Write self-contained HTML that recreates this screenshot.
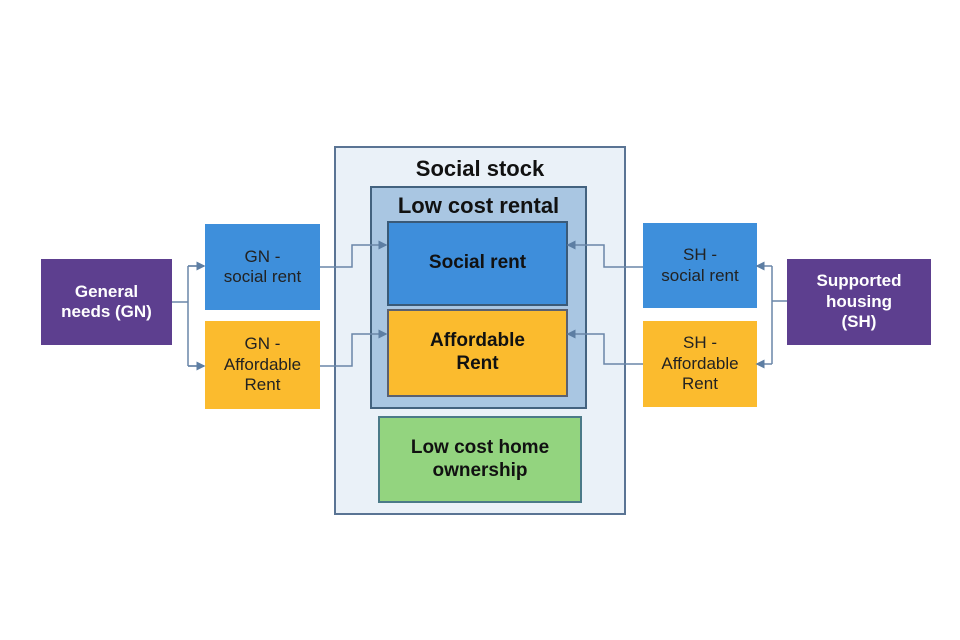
<!DOCTYPE html>
<html><head><style>
body{margin:0;width:960px;height:640px;background:#fff;position:relative;font-family:"Liberation Sans",sans-serif;overflow:hidden}
.b{position:absolute;box-sizing:border-box;display:flex;align-items:center;justify-content:center;text-align:center;line-height:1.2}
</style></head><body>
<div class="b" style="left:334px;top:146px;width:292px;height:369px;background:#eaf1f8;border:2px solid #5a7494;align-items:flex-start;padding-top:8px;font-weight:bold;font-size:22px;color:#111">Social stock</div>
<div class="b" style="left:370px;top:186px;width:217px;height:223px;background:#a9c6e2;border:2px solid #43627f;align-items:flex-start;padding-top:5px;font-weight:bold;font-size:22px;color:#111">Low cost rental</div>
<div class="b" style="left:387px;top:221px;width:181px;height:85px;background:#3e8edb;border:2px solid #3a5a78;font-weight:bold;font-size:19px;color:#111">Social rent</div>
<div class="b" style="left:387px;top:309px;width:181px;height:88px;background:#fbbb2e;border:2px solid #5a6070;font-weight:bold;font-size:19px;color:#111">Affordable<br>Rent</div>
<div class="b" style="left:378px;top:416px;width:204px;height:87px;background:#93d47f;border:2px solid #4b7a88;font-weight:bold;font-size:19px;color:#111">Low cost home<br>ownership</div>
<div class="b" style="left:41px;top:259px;width:131px;height:86px;background:#5d3f8f;color:#fff;font-weight:bold;font-size:17px">General<br>needs (GN)</div>
<div class="b" style="left:205px;top:224px;width:115px;height:86px;background:#3e8fdb;color:#222;font-size:17px">GN -<br>social rent</div>
<div class="b" style="left:205px;top:321px;width:115px;height:88px;background:#fbbb2e;color:#222;font-size:17px">GN -<br>Affordable<br>Rent</div>
<div class="b" style="left:643px;top:223px;width:114px;height:85px;background:#3e8fdb;color:#222;font-size:17px">SH -<br>social rent</div>
<div class="b" style="left:643px;top:321px;width:114px;height:86px;background:#fbbb2e;color:#222;font-size:17px">SH -<br>Affordable<br>Rent</div>
<div class="b" style="left:787px;top:259px;width:144px;height:86px;background:#5d3f8f;color:#fff;font-weight:bold;font-size:17px">Supported<br>housing<br>(SH)</div>
<svg width="960" height="640" style="position:absolute;left:0;top:0" fill="none" stroke="#6a86a8" stroke-width="1.5">
<defs><marker id="a" markerWidth="6" markerHeight="6" refX="5" refY="3" orient="auto"><path d="M0,0L6,3L0,6z" fill="#5d7ea3" stroke="none"/></marker></defs>
<path d="M172,302H188M188,266V366M188,266H204M188,366H204" />
<path d="M188,266H204" marker-end="url(#a)"/><path d="M188,366H204" marker-end="url(#a)"/>
<path d="M320,267H352V245H386" marker-end="url(#a)"/>
<path d="M320,366H352V334H386" marker-end="url(#a)"/>
<path d="M643,267H604V245H568" marker-end="url(#a)"/>
<path d="M643,364H604V334H568" marker-end="url(#a)"/>
<path d="M787,301H772M772,266V364"/>
<path d="M772,266H757" marker-end="url(#a)"/><path d="M772,364H757" marker-end="url(#a)"/>
</svg>
</body></html>
